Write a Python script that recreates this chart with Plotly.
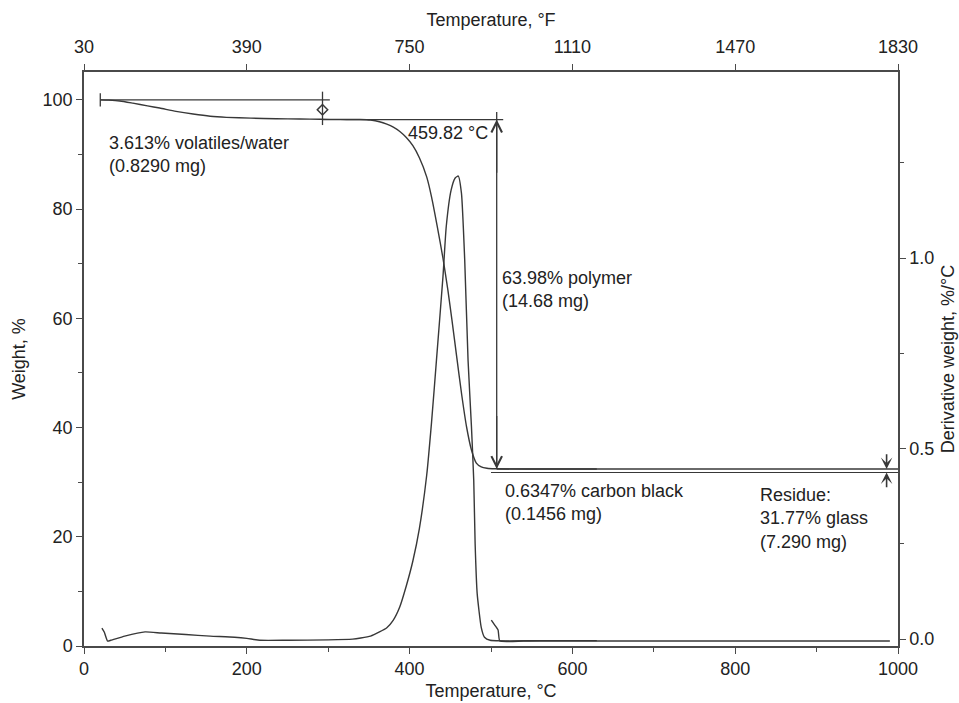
import plotly.graph_objects as go

# ---- TGA weight curve (Weight, % vs Temperature, °C) ----
temp_weight = [20, 30, 44, 60, 78, 93, 113, 134, 155, 175, 205, 236, 265, 290, 315,
               339, 352, 363, 372, 380, 388, 396, 404, 412, 421, 427, 434, 441, 447,
               452, 458, 464, 470, 476, 482, 488, 495, 505, 550, 600, 630]
weight = [100.0, 99.95, 99.8, 99.4, 98.9, 98.5, 97.9, 97.4, 97.0, 96.8, 96.65, 96.55,
          96.5, 96.45, 96.42, 96.4, 96.3, 96.0, 95.55, 95.0, 94.2, 93.1, 91.6, 89.4,
          85.9, 82.2, 76.8, 71.0, 65.2, 59.7, 52.8, 46.0, 40.1, 35.9, 33.5, 32.8,
          32.55, 32.45, 32.41, 32.41, 32.41]

# residue segment recorded after the atmosphere switch
temp_residue = [500, 1000]
weight_residue = [31.77, 31.77]

# ---- DTG curve (Derivative weight, %/°C) ----
temp_dtg1 = [22, 25, 29, 33, 50, 75, 95, 125, 155, 185, 200, 216, 250, 300, 330, 340,
             352, 363, 372, 380, 388, 396, 404, 412, 421, 427, 433, 441, 445, 451, 456,
             459.82, 463.7, 467.7, 471.8, 476, 478.8, 480.5, 483, 488, 492, 499, 560, 630]
dtg1 = [0.029, 0.018, -0.005, -0.003, 0.008, 0.019, 0.016, 0.012, 0.008, 0.005, 0.002,
        -0.003, -0.003, -0.002, 0.0, 0.003, 0.008, 0.019, 0.030, 0.05, 0.085, 0.14,
        0.205, 0.29, 0.43, 0.57, 0.732, 0.951, 1.082, 1.178, 1.21, 1.215, 1.17, 0.995,
        0.732, 0.557, 0.417, 0.25, 0.12, 0.031, 0.005, -0.003, -0.004, -0.004]

temp_dtg2 = [500.4, 504.6, 508.7, 510.8, 540, 600, 700, 800, 900, 990]
dtg2 = [0.05, 0.037, 0.024, -0.005, -0.005, -0.005, -0.005, -0.005, -0.005, -0.005]

# ---- step analysis values ----
volatiles_pct = 3.613
polymer_pct = 63.98
carbon_pct = 0.6347
residue_pct = 31.77
peak_temp = 459.82

level_start = 100.0
level_volatiles = level_start - volatiles_pct          # 96.387
level_polymer = level_volatiles - polymer_pct          # 32.407
level_residue = residue_pct

t_start = 20
t_volatiles_mark = 293
t_top_line_end = 302
t_step_line_end = 515
t_arrow = 507
t_residue_mark = 986

# axis tick labels
c_ticks = [0, 200, 400, 600, 800, 1000]
f_ticks = ["30", "390", "750", "1110", "1470", "1830"]

INK = "#383838"
AXIS = "#4a4a4a"
TEXT = "#222222"
FONT = "Liberation Sans, Arial, Helvetica, sans-serif"

fig = go.Figure()

fig.add_trace(go.Scatter(x=temp_weight, y=weight, mode="lines",
                         line=dict(color=INK, width=1.4, shape="spline", smoothing=0.6),
                         xaxis="x", yaxis="y", hoverinfo="skip"))
fig.add_trace(go.Scatter(x=temp_residue, y=weight_residue, mode="lines",
                         line=dict(color=INK, width=1.2),
                         xaxis="x", yaxis="y", hoverinfo="skip"))
fig.add_trace(go.Scatter(x=temp_dtg1, y=dtg1, mode="lines",
                         line=dict(color=INK, width=1.4, shape="spline", smoothing=0.5),
                         xaxis="x2", yaxis="y2", hoverinfo="skip"))
fig.add_trace(go.Scatter(x=temp_dtg2, y=dtg2, mode="lines",
                         line=dict(color=INK, width=1.4, shape="spline", smoothing=0.4),
                         xaxis="x2", yaxis="y2", hoverinfo="skip"))

# ---- step construction lines ----
def hline(x0, x1, y, w=1.3):
    fig.add_shape(type="line", xref="x", yref="y", x0=x0, x1=x1, y0=y, y1=y,
                  line=dict(color=INK, width=w))

def vline(x, y0, y1, w=1.3):
    fig.add_shape(type="line", xref="x", yref="y", x0=x, x1=x, y0=y0, y1=y1,
                  line=dict(color=INK, width=w))

hline(t_start, t_top_line_end, level_start)
vline(t_start, level_start - 1.2, level_start + 1.2)
hline(t_volatiles_mark, t_step_line_end, level_volatiles)
vline(t_volatiles_mark, level_volatiles - 1.0, level_start + 1.5)
fig.add_trace(go.Scatter(x=[t_volatiles_mark], y=[(level_start + level_volatiles) / 2],
                         mode="markers", xaxis="x", yaxis="y", hoverinfo="skip",
                         marker=dict(symbol="diamond-open", size=8, color=INK,
                                     line=dict(width=1.5, color=INK))))

vline(t_arrow, level_polymer, level_volatiles + 1.4)
hline(t_arrow, 1000, level_polymer)

def arrow(x, y_head, y_tail, head=5, size=1.6, width=1.3):
    fig.add_annotation(x=x, y=y_head, ax=x, ay=y_tail, xref="x", yref="y",
                       axref="x", ayref="y", text="", showarrow=True,
                       arrowhead=head, arrowsize=size, arrowwidth=width,
                       arrowcolor=INK)

arrow(t_arrow, level_volatiles, level_volatiles - 10)
arrow(t_arrow, level_polymer, level_polymer + 10)
arrow(t_residue_mark, level_polymer, level_polymer + 3.0, head=3, size=1.2, width=1.6)
arrow(t_residue_mark, level_residue, level_residue - 3.0, head=3, size=1.2, width=1.6)

# ---- text labels ----
def label(x, y, text, xanchor="left"):
    fig.add_annotation(x=x, y=y, xref="x", yref="y", text=text, showarrow=False,
                       xanchor=xanchor, yanchor="middle", align="left",
                       font=dict(family=FONT, size=18, color=TEXT))

label(27.7, 90.0, f"{volatiles_pct:.3f}% volatiles/water<br>(0.8290 mg)")
label(498.4, 94.0, f"{peak_temp:.2f} °C", xanchor="right")
label(510.7, 65.2, f"{polymer_pct:.2f}% polymer<br>(14.68 mg)")
label(514.8, 26.3, f"{carbon_pct:.4f}% carbon black<br>(0.1456 mg)")
label(828.3, 23.3, f"Residue:<br>{residue_pct:.2f}% glass<br>(7.290 mg)")

axis_common = dict(showline=True, linecolor=AXIS, linewidth=1.5, showgrid=False,
                   zeroline=False, ticks="outside", ticklen=6, tickwidth=1.3,
                   tickcolor=AXIS, automargin=False,
                   tickfont=dict(family=FONT, size=18, color=TEXT))

fig.update_layout(
    width=959, height=703,
    margin=dict(l=84, r=61, t=72, b=57, autoexpand=False),
    plot_bgcolor="white", paper_bgcolor="white",
    showlegend=False,
    font=dict(family=FONT, size=18, color=TEXT),
    xaxis=dict(range=[0, 1000], tickvals=c_ticks, anchor="y",
               minor=dict(ticks="outside", ticklen=4, tickwidth=1.2, tickcolor=AXIS,
                          dtick=100, tick0=0),
               title=dict(text="Temperature, °C", font=dict(family=FONT, size=18, color=TEXT),
                          standoff=6),
               **axis_common),
    xaxis2=dict(range=[0, 1000], tickvals=c_ticks, ticktext=f_ticks, side="top",
                overlaying="x", anchor="y2", ticklabelstandoff=4,
                title=dict(text="Temperature, °F", font=dict(family=FONT, size=18, color=TEXT),
                           standoff=6),
                **axis_common),
    yaxis=dict(range=[0, 105.1], tickvals=[0, 20, 40, 60, 80, 100], anchor="x",
               minor=dict(ticks="outside", ticklen=4, tickwidth=1.2, tickcolor=AXIS,
                          dtick=10, tick0=0),
               title=dict(text="Weight, %", font=dict(family=FONT, size=18, color=TEXT),
                          standoff=12),
               **axis_common),
    yaxis2=dict(range=[-0.018, 1.488], tickvals=[0, 0.5, 1.0],
                ticktext=["0.0", "0.5", "1.0"], side="right", overlaying="y",
                anchor="x2",
                minor=dict(ticks="outside", ticklen=4, tickwidth=1.2, tickcolor=AXIS,
                           dtick=0.25, tick0=0),
                title=dict(text="Derivative weight, %/°C",
                           font=dict(family=FONT, size=18, color=TEXT), standoff=8),
                **axis_common),
)

fig.write_html("out.html")
